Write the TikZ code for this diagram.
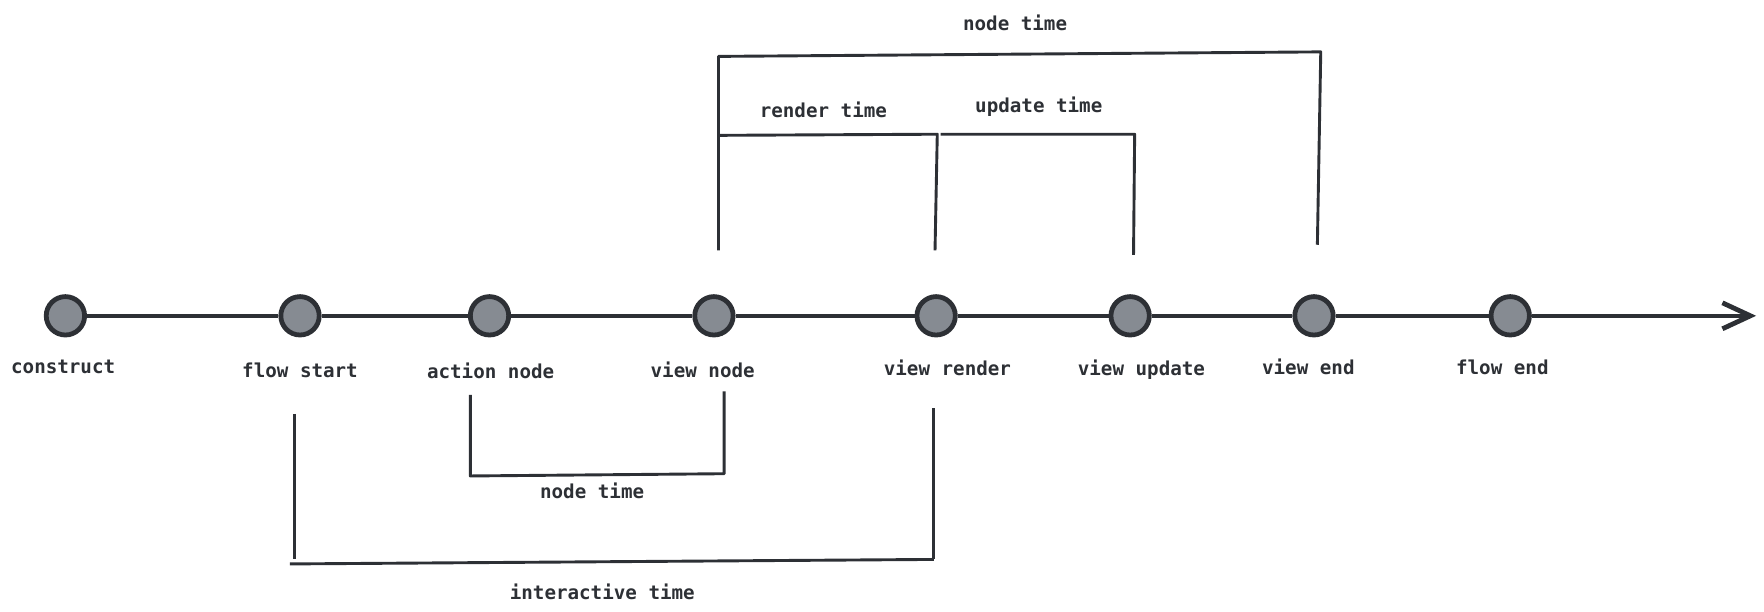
\documentclass[tikz,border=0pt]{standalone}
\usepackage{fontspec}
\setmonofont{DejaVu Sans Mono}
\usetikzlibrary{arrows.meta}
\definecolor{ink}{HTML}{2D3035}
\definecolor{dotfill}{HTML}{868B92}
\begin{document}
\begin{tikzpicture}[x=0.564pt,y=-0.564pt,
  ev/.style={circle,draw=ink,fill=dotfill,line width=2.4pt,minimum size=19.2pt,inner sep=0pt},
  lbl/.style={font=\ttfamily\bfseries\fontsize{9.6}{11}\selectfont,text=ink,inner sep=0pt},
  axis/.style={draw=ink,line width=2.2pt},
  brk/.style={draw=ink,line width=1.45pt,line join=round}]
\useasboundingbox (0,0) rectangle (1564,542.6);
% axis events
\node[ev] (c1) at (58,280) {};
\node[ev] (c2) at (266,280) {};
\node[ev] (c3) at (434,280) {};
\node[ev] (c4) at (633,280) {};
\node[ev] (c5) at (830,280) {};
\node[ev] (c6) at (1002,280) {};
\node[ev] (c7) at (1165,280) {};
\node[ev] (c8) at (1339,280) {};
\coordinate (tip) at (1557,280);
\draw[axis] (c1) -- (c2);
\draw[axis] (c2) -- (c3);
\draw[axis] (c3) -- (c4);
\draw[axis] (c4) -- (c5);
\draw[axis] (c5) -- (c6);
\draw[axis] (c6) -- (c7);
\draw[axis] (c7) -- (c8);
\draw[axis,-{Straight Barb[length=14pt,width=13pt,line width=2.4pt]}] (c8) -- (tip);
% event labels
\node[lbl] (l1) at (56,325) {construct};
\node[lbl] (l2) at (266,328) {flow start};
\node[lbl] (l3) at (435,329) {action node};
\node[lbl] (l4) at (623,328) {view node};
\node[lbl] (l5) at (840,326) {view render};
\node[lbl] (l6) at (1012,328) {view update};
\node[lbl] (l7) at (1160,325) {view end};
\node[lbl] (l8) at (1332,326) {flow end};
% top brackets
\coordinate (nt1) at (637,222); \coordinate (nt2) at (637,50);
\coordinate (nt3) at (1171,46); \coordinate (nt4) at (1168,217);
\draw[brk] (nt1) -- (nt2) -- (nt3) -- (nt4);
\node[lbl] (tnt) at (900,20) {node time};
\coordinate (rt1) at (637,120); \coordinate (rt2) at (831,119); \coordinate (rt3) at (829,222);
\draw[brk] (rt1) -- (rt2) -- (rt3);
\node[lbl] (trt) at (730,97) {render time};
\coordinate (ut1) at (834,119); \coordinate (ut2) at (1006,119); \coordinate (ut3) at (1005,226);
\draw[brk] (ut1) -- (ut2) -- (ut3);
\node[lbl] (tut) at (921,95) {update time};
% bottom brackets
\coordinate (bn1) at (417,350); \coordinate (bn2) at (417,422);
\coordinate (bn3) at (642,420); \coordinate (bn4) at (642,347);
\draw[brk] (bn1) -- (bn2) -- (bn3) -- (bn4);
\node[lbl] (tbn) at (525,435) {node time};
\coordinate (it1) at (261,367); \coordinate (it2) at (261,496);
\coordinate (it3) at (257,500); \coordinate (it4) at (828,496);
\coordinate (it5) at (828,362);
\draw[brk] (it1) -- (it2);
\draw[brk] (it3) -- (it4);
\draw[brk] (it5) -- (it4);
\node[lbl] (tit) at (534,525) {interactive time};
\end{tikzpicture}
\end{document}
